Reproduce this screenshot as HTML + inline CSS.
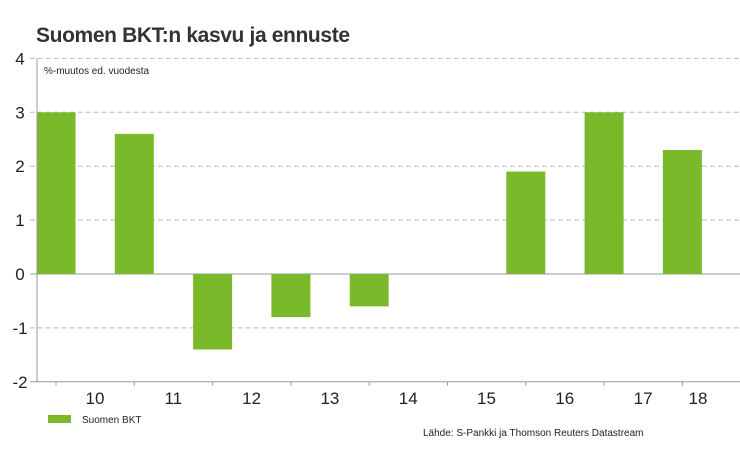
<!DOCTYPE html>
<html><head><meta charset="utf-8"><style>
body{margin:0;background:#fff;font-family:"Liberation Sans",sans-serif;}
svg{display:block}
</style></head><body>
<svg id="c" width="740" height="460">
<text x="36" y="42" font-size="21" font-weight="bold" fill="#333" textLength="314">Suomen BKT:n kasvu ja ennuste</text>
<text x="44" y="74" font-size="10" fill="#222">%-muutos ed. vuodesta</text>
<g id="grid"></g><g id="bars"></g><g id="axes"></g>
<rect x="48" y="415" width="23" height="8" fill="#7ab929"/>
<text x="82" y="423" font-size="10" fill="#222">Suomen BKT</text>
<text x="423" y="436" font-size="10" fill="#222">Lähde: S-Pankki ja Thomson Reuters Datastream</text>
</svg>
<script>
const categories=["10","11","12","13","14","15","16","17","18"];
const values=[3.0,2.6,-1.4,-0.8,-0.6,0,1.9,3.0,2.3];
const yTicks=[4,3,2,1,0,-1,-2];
const ns="http://www.w3.org/2000/svg";
const y=v=>274-v*53.9;
const x=i=>56+i*78.3;
function mk(t,a,p){const e=document.createElementNS(ns,t);for(const k in a)e.setAttribute(k,a[k]);p.appendChild(e);return e;}
const g=document.getElementById('grid'),b=document.getElementById('bars'),ax=document.getElementById('axes');
yTicks.forEach(v=>{
 if(v>-2){const l=mk('line',{x1:30,x2:740,y1:y(v),y2:y(v),stroke:v===0?'#999':'#bbb','stroke-dasharray':v===0?'':'5,3'},g);
 
 }
 const t=mk('text',{x:20,y:y(v)+6,'font-size':17,fill:'#222','text-anchor':'middle'},ax);t.textContent=v;
 
 
});
values.forEach((v,i)=>{
 if(v===0)return;
 const r=mk('rect',{x:x(i)-19.5,width:39,y:Math.min(y(v),y(0)),height:Math.abs(y(v)-y(0)),fill:'#7ab929'},b);
 
 
});
let l=mk('line',{x1:37,x2:37,y1:y(4),y2:y(-2),stroke:'#999'},ax);


l=mk('line',{x1:30,x2:740,y1:y(-2),y2:y(-2),stroke:'#999'},ax);


categories.forEach((c,i)=>{
 const tk=mk('line',{x1:x(i),x2:x(i),y1:y(-2),y2:y(-2)+4,stroke:'#999'},ax);
 
 
 const lx=i===categories.length-1?698:x(i)+39;
 const t=mk('text',{x:lx,y:404,'font-size':17,fill:'#222','text-anchor':'middle'},ax);t.textContent=c;
 
 
});
</script>
</body></html>
